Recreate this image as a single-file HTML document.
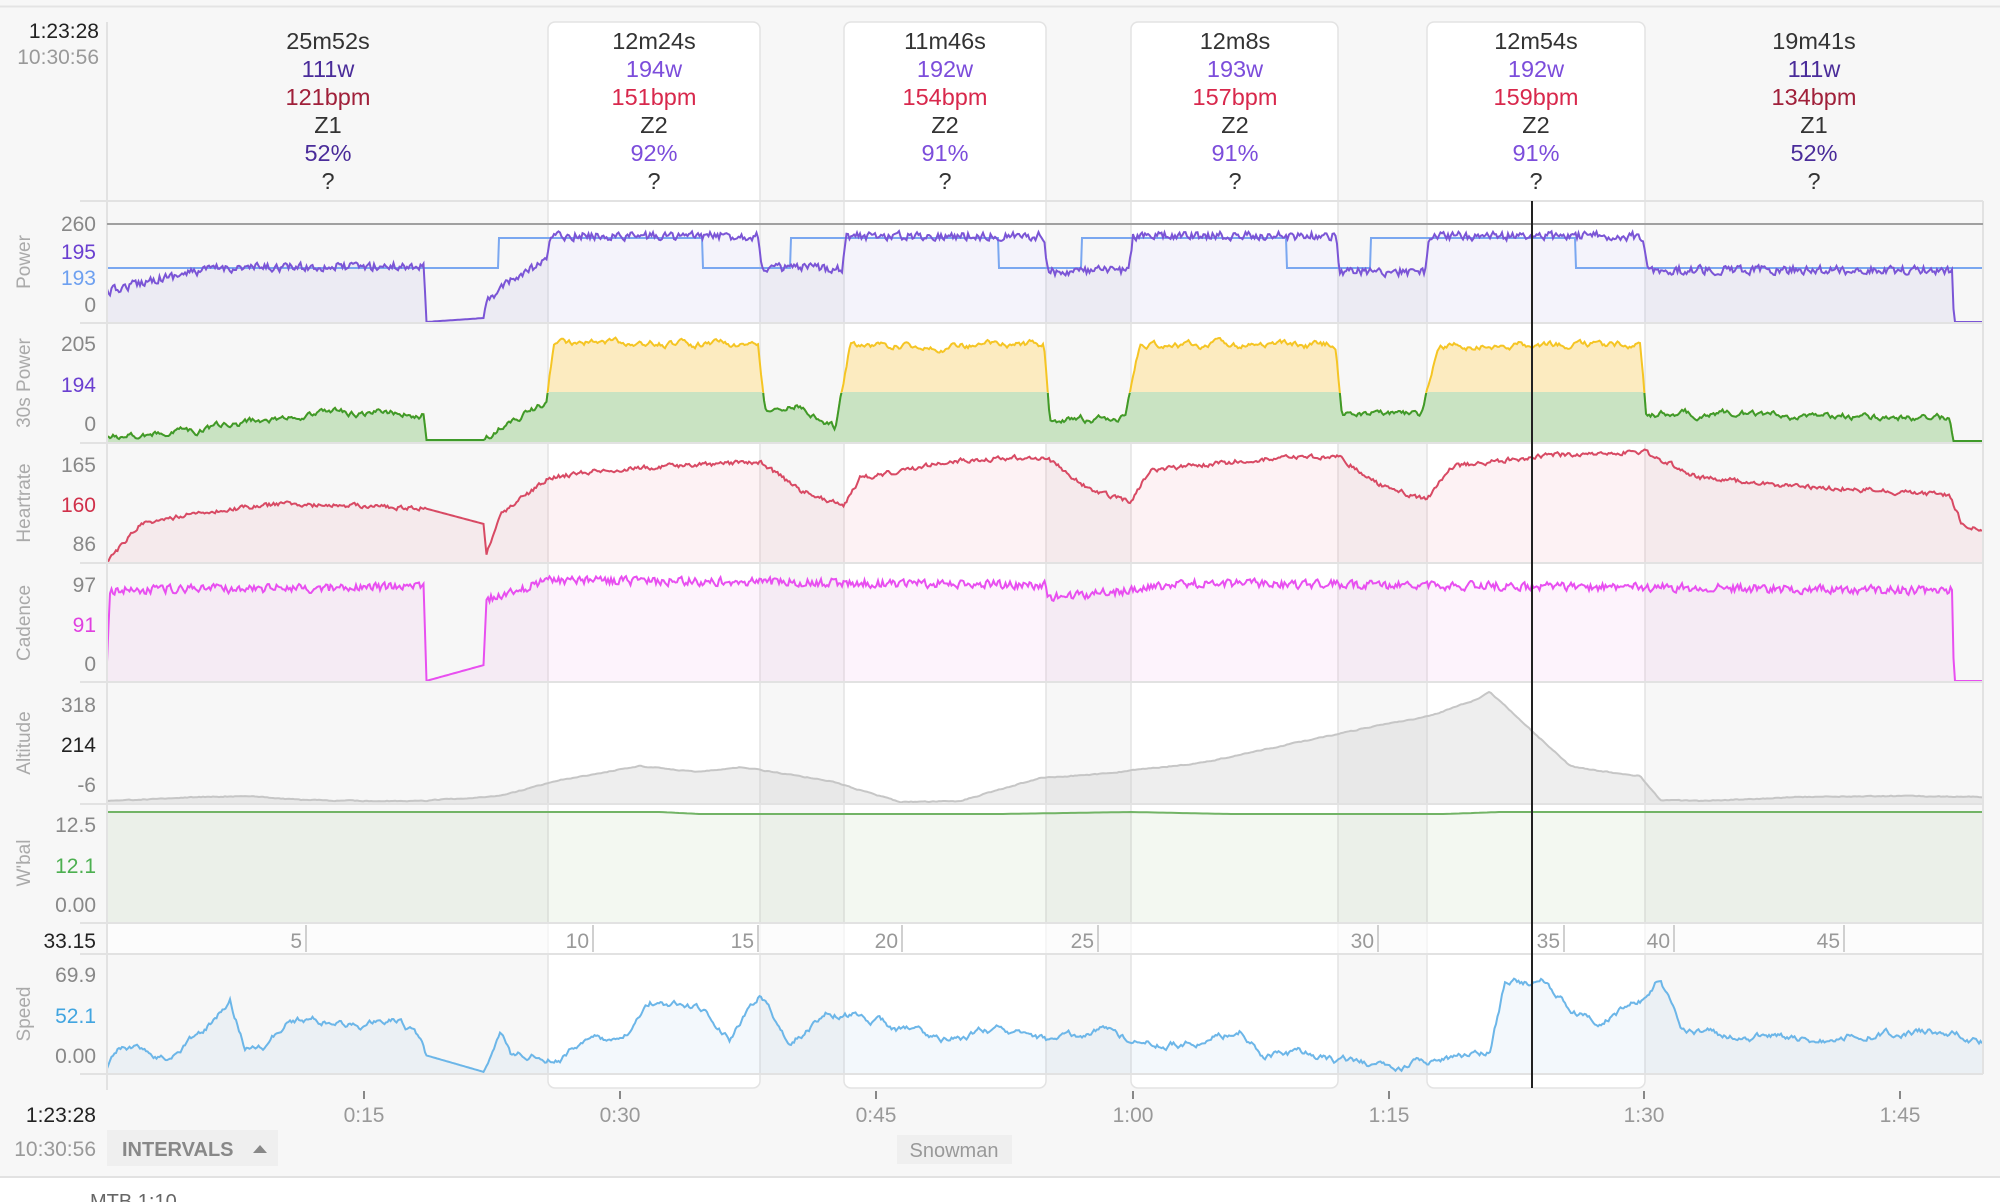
<!DOCTYPE html>
<html><head><meta charset="utf-8">
<style>
html,body{margin:0;padding:0;background:#fff;}
#wrap{position:relative;width:2000px;height:1202px;overflow:hidden;background:#fff;}
svg text{font-family:"Liberation Sans",sans-serif;}
</style></head>
<body><div id="wrap">
<svg id="s" width="2000" height="1202" viewBox="0 0 2000 1202" xmlns="http://www.w3.org/2000/svg">
<rect x="0" y="0" width="2000" height="1177" fill="#f7f7f7"/>
<line x1="0" y1="6.5" x2="2000" y2="6.5" stroke="#e4e4e4" stroke-width="2"/>
<line x1="0" y1="1177" x2="2000" y2="1177" stroke="#e2e2e2" stroke-width="2"/>
<g fill="#fff" stroke="#e3e3e3" stroke-width="1.5">
<rect x="548" y="22" width="212" height="1066" rx="7"/>
<rect x="844" y="22" width="202" height="1066" rx="7"/>
<rect x="1131" y="22" width="207" height="1066" rx="7"/>
<rect x="1427" y="22" width="218" height="1066" rx="7"/>
</g>
<rect x="107" y="923" width="1876" height="31" fill="#fff" opacity="0.6"/>
<g id="plots"></g>
<g stroke="#e2e2e2" stroke-width="2">
<line x1="80" y1="201" x2="1983" y2="201"/>
<line x1="80" y1="323" x2="1983" y2="323"/>
<line x1="80" y1="443" x2="1983" y2="443"/>
<line x1="80" y1="563" x2="1983" y2="563"/>
<line x1="80" y1="682" x2="1983" y2="682"/>
<line x1="80" y1="804" x2="1983" y2="804"/>
<line x1="80" y1="923" x2="1983" y2="923"/>
<line x1="80" y1="954" x2="1983" y2="954"/>
<line x1="80" y1="1074" x2="1983" y2="1074"/>
<line x1="107" y1="22" x2="107" y2="1090"/>
<line x1="1983" y1="201" x2="1983" y2="1074"/>
</g>
<line x1="107" y1="224" x2="1983" y2="224" stroke="#a0a0a0" stroke-width="2"/>
<g stroke="#d0d0d0" stroke-width="2">
<line x1="306" y1="925" x2="306" y2="952"/><line x1="593" y1="925" x2="593" y2="952"/>
<line x1="758" y1="925" x2="758" y2="952"/><line x1="902" y1="925" x2="902" y2="952"/>
<line x1="1098" y1="925" x2="1098" y2="952"/><line x1="1378" y1="925" x2="1378" y2="952"/>
<line x1="1564" y1="925" x2="1564" y2="952"/><line x1="1674" y1="925" x2="1674" y2="952"/>
<line x1="1844" y1="925" x2="1844" y2="952"/>
</g>
<g stroke="#888" stroke-width="2">
<line x1="364" y1="1091" x2="364" y2="1099"/><line x1="620" y1="1091" x2="620" y2="1099"/>
<line x1="876" y1="1091" x2="876" y2="1099"/><line x1="1133" y1="1091" x2="1133" y2="1099"/>
<line x1="1389" y1="1091" x2="1389" y2="1099"/><line x1="1644" y1="1091" x2="1644" y2="1099"/>
<line x1="1900" y1="1091" x2="1900" y2="1099"/>
</g>
<line x1="1532" y1="201" x2="1532" y2="1088" stroke="#222" stroke-width="2"/>
<!-- header -->
<g font-size="23.5" text-anchor="middle">
<g transform="translate(328,0)"><text y="49" fill="#333">25m52s</text><text y="77" fill="#4a2c9a">111w</text><text y="105" fill="#a0203a">121bpm</text><text y="133" fill="#333">Z1</text><text y="161" fill="#4a2c9a">52%</text><text y="189" fill="#333">?</text></g>
<g transform="translate(654,0)"><text y="49" fill="#333">12m24s</text><text y="77" fill="#7c4ddb">194w</text><text y="105" fill="#d8284c">151bpm</text><text y="133" fill="#333">Z2</text><text y="161" fill="#7c4ddb">92%</text><text y="189" fill="#333">?</text></g>
<g transform="translate(945,0)"><text y="49" fill="#333">11m46s</text><text y="77" fill="#7c4ddb">192w</text><text y="105" fill="#d8284c">154bpm</text><text y="133" fill="#333">Z2</text><text y="161" fill="#7c4ddb">91%</text><text y="189" fill="#333">?</text></g>
<g transform="translate(1235,0)"><text y="49" fill="#333">12m8s</text><text y="77" fill="#7c4ddb">193w</text><text y="105" fill="#d8284c">157bpm</text><text y="133" fill="#333">Z2</text><text y="161" fill="#7c4ddb">91%</text><text y="189" fill="#333">?</text></g>
<g transform="translate(1536,0)"><text y="49" fill="#333">12m54s</text><text y="77" fill="#7c4ddb">192w</text><text y="105" fill="#d8284c">159bpm</text><text y="133" fill="#333">Z2</text><text y="161" fill="#7c4ddb">91%</text><text y="189" fill="#333">?</text></g>
<g transform="translate(1814,0)"><text y="49" fill="#333">19m41s</text><text y="77" fill="#4a2c9a">111w</text><text y="105" fill="#a0203a">134bpm</text><text y="133" fill="#333">Z1</text><text y="161" fill="#4a2c9a">52%</text><text y="189" fill="#333">?</text></g>
</g>
<g font-size="21" text-anchor="end">
<text x="99" y="38" fill="#222">1:23:28</text><text x="99" y="64" fill="#999">10:30:56</text>
<text x="96" y="231" fill="#888">260</text><text x="96" y="259" fill="#6a3fd0">195</text><text x="96" y="285" fill="#6ea0f0">193</text><text x="96" y="312" fill="#888">0</text>
<text x="96" y="351" fill="#888">205</text><text x="96" y="392" fill="#6a3fd0">194</text><text x="96" y="431" fill="#888">0</text>
<text x="96" y="472" fill="#888">165</text><text x="96" y="512" fill="#d0304a">160</text><text x="96" y="551" fill="#888">86</text>
<text x="96" y="592" fill="#888">97</text><text x="96" y="632" fill="#e040e0">91</text><text x="96" y="671" fill="#888">0</text>
<text x="96" y="712" fill="#888">318</text><text x="96" y="752" fill="#222">214</text><text x="96" y="792" fill="#888">-6</text>
<text x="96" y="832" fill="#888">12.5</text><text x="96" y="873" fill="#4caf50">12.1</text><text x="96" y="912" fill="#888">0.00</text>
<text x="96" y="948" fill="#222">33.15</text>
<text x="96" y="982" fill="#888">69.9</text><text x="96" y="1023" fill="#42a5e0">52.1</text><text x="96" y="1063" fill="#888">0.00</text>
<text x="96" y="1122" fill="#222">1:23:28</text><text x="96" y="1156" fill="#999">10:30:56</text>
<text x="302" y="948" fill="#999">5</text><text x="589" y="948" fill="#999">10</text><text x="754" y="948" fill="#999">15</text>
<text x="898" y="948" fill="#999">20</text><text x="1094" y="948" fill="#999">25</text><text x="1374" y="948" fill="#999">30</text>
<text x="1560" y="948" fill="#999">35</text><text x="1670" y="948" fill="#999">40</text><text x="1840" y="948" fill="#999">45</text>
</g>
<g font-size="21" text-anchor="middle" fill="#999">
<text x="364" y="1122">0:15</text><text x="620" y="1122">0:30</text><text x="876" y="1122">0:45</text><text x="1133" y="1122">1:00</text>
<text x="1389" y="1122">1:15</text><text x="1644" y="1122">1:30</text><text x="1900" y="1122">1:45</text>
</g>
<g font-size="19" fill="#aaa" text-anchor="middle">
<text transform="translate(30,262) rotate(-90)">Power</text>
<text transform="translate(30,383) rotate(-90)">30s Power</text>
<text transform="translate(30,503) rotate(-90)">Heartrate</text>
<text transform="translate(30,623) rotate(-90)">Cadence</text>
<text transform="translate(30,743) rotate(-90)">Altitude</text>
<text transform="translate(30,863) rotate(-90)">W'bal</text>
<text transform="translate(30,1014) rotate(-90)">Speed</text>
</g>
<rect x="107" y="1130" width="171" height="36" fill="#efefef"/>
<text x="122" y="1156" font-size="20" fill="#888" font-weight="bold">INTERVALS</text>
<path d="M253 1153 L267 1153 L260 1145 Z" fill="#888"/>
<rect x="897" y="1135" width="115" height="29" fill="#efefef"/>
<text x="954" y="1157" font-size="20" fill="#999" text-anchor="middle">Snowman</text>
<text x="90" y="1208" font-size="20" fill="#666">MTB 1:10</text>
</svg>
</div>
<script>
(function(){
var seed=12345;function r(){seed=(seed*16807)%2147483647;return seed/2147483647;}
function interp(x,pts){if(x<=pts[0][0])return pts[0][1];for(var i=1;i<pts.length;i++){if(x<=pts[i][0]){var a=pts[i-1],b=pts[i];if(b[0]==a[0])return b[1];return a[1]+(b[1]-a[1])*(x-a[0])/(b[0]-a[0]);}}return pts[pts.length-1][1];}
function gen(pts,amp,sm,x0,x1,step,lo,hi,noNoise){var out=[],n=0;for(var x=x0;x<=x1;x+=step){n=n*sm+(r()-0.5)*amp;var b=interp(x,pts);var nz=noNoise&&noNoise(x)?0:n;var y=b+nz;if(y<lo)y=lo;if(y>hi)y=hi;out.push([x,y]);}return out;}
function line(p){return p.map(function(q,i){return (i?'L':'M')+q[0].toFixed(1)+' '+q[1].toFixed(1);}).join('');}
function area(p,base){return line(p)+'L'+p[p.length-1][0]+' '+base+'L'+p[0][0]+' '+base+'Z';}
var g=document.getElementById('plots');var NS='http://www.w3.org/2000/svg';
function add(tag,attrs){var e=document.createElementNS(NS,tag);for(var k in attrs)e.setAttribute(k,attrs[k]);g.appendChild(e);return e;}
var gap=function(x){return x>425&&x<486;};
// Power
var P=[[107,292],[150,280],[217,268],[424,266],[426,322],[484,318],[486,300],[520,275],[546,262],[550,236],[758,236],[762,268],[842,268],[846,236],[1044,236],[1048,272],[1129,270],[1133,236],[1336,236],[1340,272],[1425,272],[1429,236],[1643,236],[1647,270],[1952,270],[1954,322],[1983,322]];
var pw=gen(P,8,0.3,107,1983,1.5,205,322,function(x){return gap(x)||x>1953;});
add('path',{d:area(pw,323),fill:'rgba(120,100,200,0.08)',stroke:'none'});
var tgt=[[107,268],[498,268],[499,238],[702,238],[703,268],[790,268],[791,238],[998,238],[999,268],[1081,268],[1082,238],[1286,238],[1287,268],[1370,268],[1371,238],[1575,238],[1576,268],[1983,268]];
add('path',{d:line(tgt),fill:'none',stroke:'#7aa7f0','stroke-width':2});
add('path',{d:line(pw),fill:'none',stroke:'#7b55d6','stroke-width':2});
// 30s power
var S=[[107,438],[200,430],[260,422],[330,412],[424,414],[426,440],[484,440],[510,420],[546,404],[554,342],[758,345],[765,413],[800,405],[835,428],[850,345],[1044,345],[1050,420],[1125,418],[1140,345],[1336,345],[1342,413],[1420,415],[1440,345],[1640,345],[1646,413],[1950,418],[1953,441],[1983,441]];
var s30=gen(S,5,0.8,107,1983,1.5,330,441,function(x){return gap(x)||x>1953;});
add('path',{d:area(s30,443),fill:'#fcebc0',stroke:'#f5c524','stroke-width':2});
var s30g=s30.map(function(q){return [q[0],Math.max(q[1],392)];});
add('path',{d:area(s30g,443),fill:'#c9e3c2',stroke:'none'});
var cp=add('clipPath',{id:'cg'});var cr=document.createElementNS(NS,'rect');cr.setAttribute('x',0);cr.setAttribute('y',393);cr.setAttribute('width',2000);cr.setAttribute('height',60);cp.appendChild(cr);
add('path',{d:line(s30),fill:'none',stroke:'#3f9a2a','stroke-width':2,'clip-path':'url(#cg)'});
// HR
var H=[[107,561],[140,525],[200,512],[280,504],[424,508],[484,524],[486,555],[500,515],[548,478],[600,470],[700,465],[760,462],[800,490],[844,506],[860,478],[960,460],[1046,457],[1090,490],[1131,502],[1150,470],[1250,460],[1338,456],[1380,485],[1427,500],[1450,467],[1550,455],[1645,452],[1700,478],[1800,486],[1950,495],[1962,525],[1983,530]];
var hr=gen(H,4,0.5,107,1983,1.5,445,562,gap);
add('path',{d:area(hr,563),fill:'rgba(230,90,110,0.08)',stroke:'none'});
add('path',{d:line(hr),fill:'none',stroke:'#d84a64','stroke-width':2});
// Cadence
var C=[[107,662],[110,590],[424,587],[426,681],[484,665],[486,600],[550,580],[1046,585],[1048,598],[1131,590],[1200,583],[1900,590],[1952,590],[1954,681],[1983,681]];
var cd=gen(C,8,0.3,107,1983,1.5,572,681,function(x){return gap(x)||x>1953||x<110;});
add('path',{d:area(cd,682),fill:'rgba(230,100,220,0.08)',stroke:'none'});
add('path',{d:line(cd),fill:'none',stroke:'#e84ff0','stroke-width':2});
// Altitude
var A=[[107,801],[200,797],[250,796],[300,800],[370,801],[420,801],[500,796],[560,780],[640,766],[700,772],[740,767],[780,773],[830,781],[900,802],[960,801],[1040,778],[1100,774],[1200,763],[1300,742],[1380,725],[1430,716],[1475,700],[1490,692],[1520,720],[1570,766],[1600,771],[1640,776],[1660,800],[1700,801],[1800,797],[1900,796],[1983,797]];
var al=gen(A,0.8,0.5,107,1983,2,690,803);
add('path',{d:area(al,804),fill:'rgba(200,200,200,0.3)',stroke:'#c6c6c6','stroke-width':2});
// Wbal
var W=[[107,812],[660,812],[700,814],[1000,814],[1131,812],[1230,814],[1445,814],[1500,812],[1983,812]];
var wb=gen(W,0,0,107,1983,4,800,900);
add('path',{d:area(wb,923),fill:'rgba(120,180,100,0.09)',stroke:'#72b466','stroke-width':2});
// Speed
var SP=[[107,1070],[120,1050],[140,1048],[170,1058],[200,1035],[230,1000],[245,1045],[265,1050],[290,1018],[330,1020],[360,1025],[400,1020],[420,1040],[425,1055],[484,1072],[500,1025],[510,1055],[560,1055],[590,1040],[620,1040],[650,1005],[700,1010],[730,1040],[760,995],[790,1040],[830,1010],[870,1018],[900,1030],[950,1040],[1000,1030],[1050,1045],[1100,1030],[1150,1045],[1200,1040],[1240,1030],[1265,1055],[1300,1055],[1342,1062],[1400,1063],[1460,1060],[1490,1053],[1505,985],[1520,985],[1545,980],[1570,1010],[1600,1020],[1640,1000],[1660,975],[1680,1030],[1720,1035],[1760,1035],[1800,1040],[1830,1040],[1870,1030],[1900,1035],[1930,1030],[1983,1040]];
var sp=gen(SP,5,0.88,107,1983,1.5,962,1072,function(x){return gap(x);});
add('path',{d:area(sp,1074),fill:'rgba(100,160,220,0.08)',stroke:'none'});
add('path',{d:line(sp),fill:'none',stroke:'#6cb6e8','stroke-width':2});
})();
</script>
</body></html>
